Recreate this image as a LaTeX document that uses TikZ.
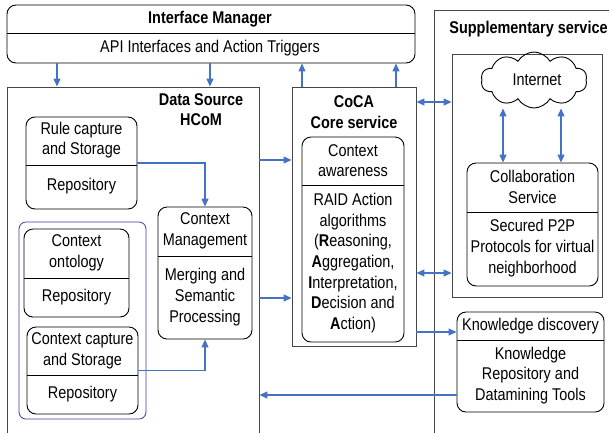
\documentclass[tikz,border=0pt]{standalone}
\usepackage{fontspec}
\setmainfont{Liberation Sans}[FakeStretch=0.85]
\usetikzlibrary{fit,arrows.meta,shapes.symbols}
\definecolor{arrblue}{RGB}{68,114,196}
\definecolor{grpblue}{RGB}{60,60,160}
\definecolor{outgray}{RGB}{70,70,70}
\tikzset{
  rbox/.style={draw=black,line width=0.9pt,rounded corners=9pt,inner sep=0pt},
  obox/.style={draw=outgray,line width=0.9pt,inner sep=0pt},
  gbox/.style={draw=grpblue,line width=0.8pt,rounded corners=7pt,inner sep=0pt},
  divider/.style={draw=black,line width=0.9pt},
  txt/.style={align=center,inner sep=0pt,font=\fontsize{17}{20.7}\selectfont},
  ttl/.style={align=center,inner sep=0pt,font=\fontsize{17}{20.7}\selectfont\bfseries},
  arr/.style={draw=arrblue,line width=1.1pt,-{Triangle[length=8pt,width=7pt]}},
  darr/.style={draw=arrblue,line width=1.1pt,{Triangle[length=8pt,width=7pt]}-{Triangle[length=8pt,width=7pt]}},
}
\begin{document}
\begin{tikzpicture}[x=1pt,y=-1pt]
\clip (0,0) rectangle (609,432);
\fill[white] (0,0) rectangle (609,432);
% helper coordinates
\coordinate (c57) at (57,0);
\coordinate (c210) at (210,0);
\coordinate (c302) at (302,0);
\coordinate (c396) at (396,0);
\coordinate (c503) at (503,0);
\coordinate (c561) at (561,0);
\coordinate (y102) at (0,102);
\coordinate (y160) at (0,160);
\coordinate (y273) at (0,273);
\coordinate (y298) at (0,298);
\coordinate (y332) at (0,332);
\coordinate (y395) at (0,395);

% outer boxes
\node[obox,fit={(7,87)(259,445)}] (ds) {};
\node[obox,fit={(434,10)(640,445)}] (sup) {};
\node[obox,fit={(292,87)(416,346)}] (coca) {};
\node[obox,fit={(452,54)(602,297)}] (supin) {};

% Interface manager
\node[rbox,fit={(7,5)(415,63)}] (im) {};
\draw[divider] (7,33) -- (415,33);
\node[ttl] (imt) at (210,19) {Interface Manager};
\node[txt] (imb) at (210,48) {API Interfaces and Action Triggers};

% Data source title
\node[ttl] (dst) at (201,109.5) {Data Source\\HCoM};

% Rule capture
\node[rbox,fit={(26,117)(137,209)}] (rule) {};
\draw[divider] (26,165) -- (137,165);
\node[txt] (rulet) at (81.5,140) {Rule capture\\and Storage};
\node[txt] (ruleb) at (81.5,186) {Repository};

% group
\node[gbox,fit={(19,222)(146,419)}] (grp) {};

% Context ontology
\node[rbox,fit={(24,229)(129,317)}] (ont) {};
\draw[divider] (24,278) -- (129,278);
\node[txt] (ontt) at (76.5,253) {Context\\ontology};
\node[txt] (ontb) at (76.5,297) {Repository};

% Context capture
\node[rbox,fit={(27,327)(138,414)}] (cap) {};
\draw[divider] (27,375) -- (138,375);
\node[txt] (capt) at (82.5,350.5) {Context capture\\and Storage};
\node[txt] (capb) at (82.5,394.5) {Repository};

% Context management
\node[rbox,fit={(158,207)(252,339)}] (cm) {};
\draw[divider] (158,256) -- (252,256);
\node[txt] (cmt) at (205,231) {Context\\Management};
\node[txt] (cmb) at (205,297) {Merging and\\Semantic\\Processing};

% CoCA
\node[ttl] (cocat) at (354,112) {CoCA\\Core service};
\node[rbox,fit={(302,137)(404,342)}] (ca) {};
\draw[divider] (302,185) -- (404,185);
\node[txt] (cat) at (353,160.5) {Context\\awareness};
\node[txt] (cab) at (353,263) {RAID Action\\algorithms\\(\textbf{R}easoning,\\\textbf{A}ggregation,\\\textbf{I}nterpretation,\\\textbf{D}ecision and\\\textbf{A}ction)};

% Supplementary
\node[ttl] (supt) at (528.5,29) {Supplementary service};
\node[cloud,draw=black,line width=0.9pt,cloud puffs=10,cloud puff arc=120,aspect=2.1,inner sep=0pt,minimum width=106pt,minimum height=56pt] (net) at (534,80) {};
\node[txt] (nett) at (537,80) {Internet};
\node[rbox,fit={(467,163)(598,286)}] (col) {};
\draw[divider] (467,212) -- (598,212);
\node[txt] (colt) at (532.5,187) {Collaboration\\Service};
\node[txt] (colb) at (532.5,248) {Secured P2P\\Protocols for virtual\\neighborhood};

% Knowledge discovery
\node[rbox,fit={(457,312)(604,412)}] (kd) {};
\draw[divider] (457,340) -- (604,340);
\node[txt] (kdt) at (530.5,326) {Knowledge discovery};
\node[txt] (kdb) at (530.5,375.5) {Knowledge\\Repository and\\Datamining Tools};

% connectors
\draw[arr] (im.south -| c57) -- (ds.north -| c57);
\draw[arr] (im.south -| c210) -- (ds.north -| c210);
\draw[arr] (coca.north -| c302) -- (im.south -| c302);
\draw[arr] (coca.north -| c396) -- (im.south -| c396);
\draw[arr] (rule.east) -| (cm.north);
\draw[arr] (cap.east) -| (cm.south);
\draw[arr] (ds.east |- y160) -- (coca.west |- y160);
\draw[arr] (ds.east |- y298) -- (coca.west |- y298);
\draw[darr] (coca.east |- y102) -- (supin.west |- y102);
\draw[darr] (coca.east |- y273) -- (supin.west |- y273);
\draw[arr] (coca.east |- y332) -- (kd.west |- y332);
\draw[arr] (kd.west |- y395) -- (ds.east |- y395);
\draw[darr] (net.south -| c503) -- (col.north -| c503);
\draw[darr] (net.south -| c561) -- (col.north -| c561);
\end{tikzpicture}
\end{document}
